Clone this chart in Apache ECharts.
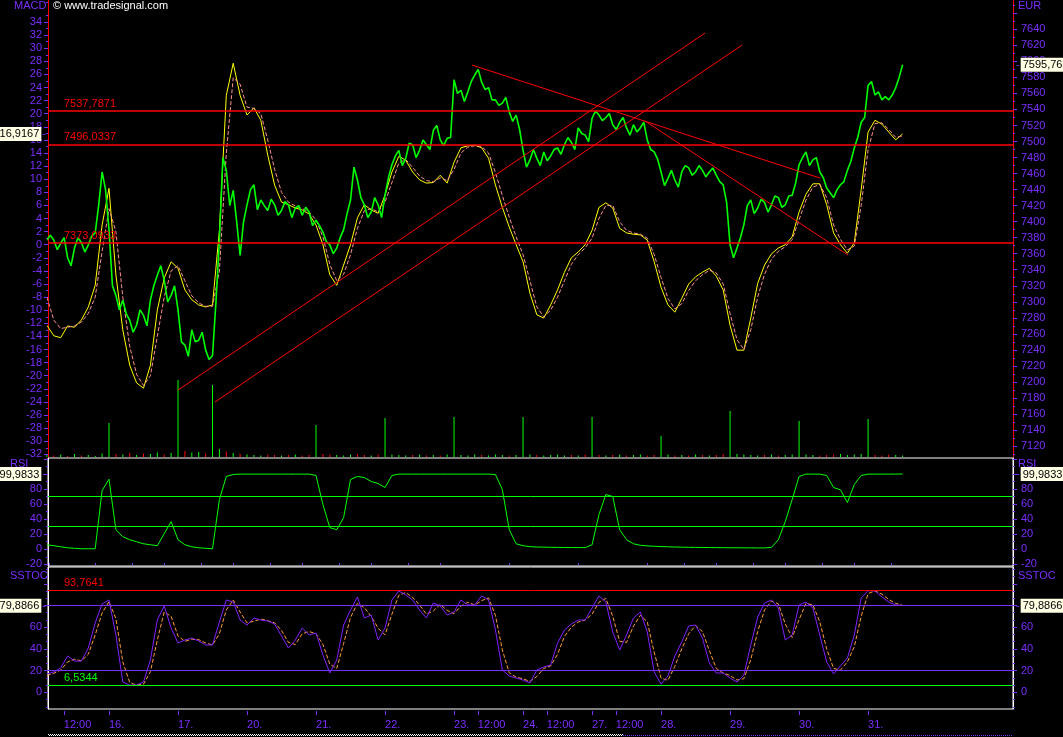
<!DOCTYPE html>
<html>
<head>
<meta charset="utf-8">
<title>MACD / RSI / SSTOC</title>
<script src="https://cdn.jsdelivr.net/npm/echarts@6/dist/echarts.min.js"></script>
<style>
html,body{margin:0;padding:0;background:#000;overflow:hidden;}
#chart{width:1063px;height:737px;}
</style>
</head>
<body>
<div id="chart"></div>
<script>
// ---------------- data ----------------
// indicators: one sample every 1/10 trading day; price: one every 1/20 trading day
const samplesPerDay = 10;
const priceSamplesPerDay = 20;
const firstSample = 1;

const price = [
7377,7383,7377,7365,7373,7380,7355,7345,7367,7380,7374,7362,7371,7382,7386,7420,7462,7440,
7390,7320,7308,7290,7302,7285,7277,7262,7271,7290,7283,7270,7302,7320,7333,7345,7327,7300,7308,7320,
7290,7250,7246,7232,7265,7250,7252,7262,7240,7228,7233,7300,7377,7480,7464,7420,7439,7400,7358,7400,
7421,7440,7446,7415,7427,7420,7414,7428,7421,7408,7414,7425,7421,7405,7417,7420,7408,7418,7412,7395,
7402,7395,7387,7375,7371,7360,7367,7380,7390,7410,7427,7468,7452,7430,7421,7405,7412,7430,7421,7405,
7433,7455,7471,7482,7489,7470,7479,7498,7496,7480,7489,7502,7496,7490,7514,7520,7502,7495,7504,7505,
7577,7560,7564,7550,7562,7575,7583,7590,7574,7565,7567,7552,7552,7545,7548,7555,7537,7525,7533,7515,
7489,7468,7477,7490,7479,7470,7487,7476,7482,7490,7492,7484,7496,7505,7499,7490,7517,7510,7508,7500,
7529,7538,7533,7526,7530,7535,7521,7515,7524,7530,7517,7508,7521,7512,7517,7524,7502,7490,7487,7478,
7462,7445,7454,7464,7452,7443,7462,7470,7467,7458,7462,7470,7464,7456,7462,7467,7458,7450,7446,7424,
7371,7355,7367,7380,7396,7420,7427,7410,7417,7428,7424,7412,7421,7432,7430,7418,7421,7432,7433,7448,
7471,7480,7487,7470,7477,7480,7462,7455,7442,7436,7430,7440,7446,7450,7464,7475,7492,7505,7524,7530,
7570,7575,7558,7562,7552,7556,7552,7558,7567,7580,7595.76
];

const macd = [
-12.3,-13.9,-14.2,-12.4,-12.6,-11.5,-9.5,-6.2,3.0,8.6,
-4.6,-13.0,-18.4,-21.1,-21.9,-18.4,-10.0,-5.1,-2.6,-3.6,
-6.9,-8.4,-9.2,-9.5,-9.2,2.2,22.8,27.7,22.8,19.8,
20.9,19.0,13.7,9.1,6.5,6.1,5.6,5.3,4.7,3.0,
0,-4.6,-6.2,-3.1,0,4.1,6.1,5.3,4.8,7.6,
11.1,13.5,12.9,11.1,9.9,9.4,9.5,10.6,9.4,12.6,
14.8,15.1,15.2,14.8,13.2,9.1,5.7,2.7,0,-2.6,
-7.4,-10.7,-11.2,-9.2,-6.9,-4.2,-2.0,-1.1,0,2.2,
5.7,6.4,5.6,2.5,1.8,1.6,1.5,0.7,-2.6,-6.5,
-9.2,-10.3,-8.2,-6.0,-4.9,-4.2,-3.6,-4.8,-6.9,-12.3,
-16.1,-16.1,-11.2,-5.9,-3.1,-1.4,-0.5,0,1.2,5.0,
7.7,9.3,9.3,6.1,1.8,0,-1.3,0.3,8.4,17.2,
19.0,18.4,17.2,16.0,16.9167
];

const macdSignal = [
-8.0,-11.5,-12.8,-12.6,-12.4,-11.8,-10.5,-8.0,-1.0,5.5,
2.0,-8.0,-15.5,-19.8,-21.5,-20.0,-14.0,-8.0,-4.0,-3.2,
-5.5,-7.8,-8.9,-9.4,-9.4,-4.0,14.0,25.5,24.5,21.0,
20.8,20.0,16.0,11.5,8.0,6.5,5.9,5.5,5.0,3.8,
1.2,-3.0,-5.5,-4.5,-1.5,2.5,5.2,5.5,5.0,6.5,
9.5,12.5,13.0,11.8,10.5,9.8,9.6,10.2,9.8,11.5,
14.0,14.9,15.1,15.0,14.0,11.0,7.5,4.2,1.2,-1.5,
-5.5,-9.5,-11.0,-10.0,-8.0,-5.5,-3.0,-1.5,-0.5,1.0,
4.0,6.0,6.0,3.5,2.2,1.8,1.6,1.0,-1.5,-5.0,
-8.2,-9.8,-9.0,-7.0,-5.5,-4.6,-3.9,-4.3,-6.0,-10.5,
-14.5,-16.0,-13.0,-8.0,-4.5,-2.2,-1.0,-0.3,0.8,3.8,
6.8,8.8,9.2,7.2,3.0,0.8,-0.8,-0.2,6.0,14.5,
18.5,18.6,17.6,16.4,16.6
];

const volume = [
20,15,25,10,30,15,20,10,35,340,
30,25,40,20,35,30,45,25,40,770,
60,45,50,35,720,80,55,40,30,25,
20,15,25,20,15,20,25,15,20,320,
30,25,20,15,25,30,20,15,25,390,
25,20,15,20,25,15,20,15,25,400,
20,15,25,20,15,25,20,15,20,400,
25,20,15,20,25,15,20,15,25,400,
20,15,20,25,15,20,25,15,20,210,
25,15,20,15,25,20,15,20,30,460,
30,25,20,15,20,25,15,20,25,360,
25,20,15,20,25,30,20,25,30,380,
20,15,25,20,15
];

const rsi = [
6,4.7,3.3,2,1.3,0.7,0.7,0.7,78,93,
26,16.7,12.7,10,7.3,6,4.7,20.7,36.7,12.7,
6,3.3,2,1.3,0.7,66,96.7,99.3,99.8,99.8,
99.8,99.8,99.8,99.8,99.8,99.8,99.8,99.8,99.8,98,
59.3,28.7,26,42,92.7,96.7,95.3,90,87.3,82,
98,99.8,99.8,99.8,99.8,99.8,99.8,99.8,99.8,99.8,
99.8,99.8,99.8,99.8,99.8,99.3,79.3,26,7.3,4.7,
3.5,3,2.8,2.6,2.5,2.4,2.3,2.3,2.2,6,
46,72.7,70,26,12.7,7.3,5.3,4.5,4,3.6,
3.3,3,2.8,2.6,2.5,2.4,2.3,2.2,2.1,2,
2,1.9,1.9,1.8,1.8,2.5,12.7,36.7,66,96.7,
99.8,99.8,99.8,98,82,79,62,86,98,99.8,
99.8,99.8,99.8,99.8,99.9833
];

const stoch = [
16.9,18.7,22.4,33.5,28.8,28.8,40.8,63.9,81.4,85.1,
52.8,9.5,6.6,6.7,9.5,29.8,66.6,79.6,59.3,45.4,
48.2,50,47.3,43.6,43.6,64.8,85.1,83.2,66.6,62,
68.5,66.6,65.7,62.9,51.9,40.8,48.2,59.3,52.8,54.6,
34.4,17.8,29.8,62,75.9,87.9,68.5,71.2,48.2,59.3,
85.1,93.4,89.7,85.1,75.9,68.5,82.3,79.6,71.2,74,
85.1,80.5,80.5,88.8,85.1,57.4,20.6,15,13.2,11.3,
8.6,20.6,23.3,25.2,45.4,57.4,62.9,66.6,66.6,77.7,
88.8,83.2,55.6,39,52.8,68.5,74,55.6,18.7,7.6,
15,33.5,46.4,61.1,62,50,27,17.8,17.8,13.2,
9.5,15.9,43.6,69.4,82.3,85.1,77.7,48.2,52.8,80.5,
83.2,77.7,52.8,28,16.9,24.3,31.6,52.8,87,93.7,
93.4,87.9,83.2,80.5,79.8866
];

const stochSignal = [
15.5,17.5,20.5,28,30.5,29,35,53,73,83.5,
68,28,9,6.6,7.5,19,48,74,70,52,
47,49,48.5,45.5,43.6,54,76,85,74,64,
65.5,67.5,66,64,57,46,44,54,56,54,
44,26,22,45,69,82,78,70,59,53,
72,89.5,92,87.5,80.5,72,75,81,75.5,72.5,
79.5,83,80.5,84.5,87,71,39,18,14,12.5,
10,14.5,22,24.3,35,51.5,60,64.8,66.6,72,
83,86.5,70,47,46,61,71,65,37,13,
11,24,40,54,61.5,56,38.5,22,17.8,15.5,
11.3,12.5,30,56,76,84,81.5,63,50.5,67,
82,80.5,65,40,22,20.5,28,42,70,91,
93.5,90.5,85.5,82,80.2
];

// horizontal price levels and drawn trend lines (trading-day, price)
const priceLevels = [7537.7871, 7496.0337, 7373.0933];
const trendLines = [
  [[2.0, 7189.8], [9.638, 7635.4]],
  [[2.536, 7174.9], [10.174, 7620.4]],
  [[6.261, 7595.4], [11.304, 7454.4]],
  [[8.768, 7525.6], [11.71, 7358.3]]
];
const rsiLevels = [70, 30];
const stochHigh = 93.7641, stochLow = 6.5344, stochLower = 20;
const lastMacd = 16.9167, lastPrice = 7595.76, lastRsi = 99.9833, lastStoch = 79.8866;

// x axis ticks and labels (trading-day units)
const xLabelTicks = [0.345, 1, 2, 3, 4, 5, 6, 6.345, 7, 7.345, 8, 8.345, 9, 10, 11, 12];
const xLabelText = ['12:00','16.','17.','20.','21.','22.','23.','12:00','24.','12:00','27.','12:00','28.','29.','30.','31.'];
const xMinorTicks = [0.13,0.8,1.34,1.8,2.34,2.8,3.34,3.8,4.34,4.8,5.34,5.8,6.8,7.8,8.8,9.34,9.8,10.34,10.8,11.34,11.8,12.34];

// y axis tick values
const macdLabels = []; for (let v = -32; v <= 34; v += 2) macdLabels.push(v);
const macdMinor = []; for (let v = -31; v <= 37; v += 2) macdMinor.push(v);
const eurLabels = []; for (let v = 7120; v <= 7640; v += 20) eurLabels.push(v);
const eurMajor = []; for (let v = 7120; v <= 7660; v += 20) eurMajor.push(v);
const eurMinor = []; for (let v = 7110; v <= 7670; v += 20) eurMinor.push(v);
const rsiLabels = [-20, 0, 20, 40, 60, 80];
const rsiMajor = [-20, 0, 20, 40, 60, 80, 100, 120];
const rsiMinor = [-10, 10, 30, 50, 70, 90, 110];
const stLabels = [0, 20, 40, 60];
const stMajor = [-20, 0, 20, 40, 60, 80, 100];
const stMinor = []; for (let v = -20; v <= 100; v += 20) { stMinor.push(v + 20/3, v + 40/3); }

// ---------------- chart ----------------
const PURPLE = '#7b2fff';
const FONT = 'Liberation Sans, Arial, sans-serif';
const X_MIN = 0.116, X_MAX = 14.10;
const xs = macd.map((_, k) => (k + firstSample) / samplesPerDay);
const pxs = price.map((_, k) => (k + 2 * firstSample) / priceSamplesPerDay);
const pair = arr => arr.map((v, k) => [xs[k], v]);
const comma = (v, d) => v.toFixed(d).replace('.', ',');
const NOLINE = {color: 'rgba(0,0,0,0)', width: 0};

const boxRich = {
  v: {backgroundColor: '#ffffe4', color: '#000', fontSize: 11, fontFamily: FONT, padding: [2, 2, 1, 2], lineHeight: 13},
  d: {color: PURPLE, fontSize: 11, fontFamily: FONT, padding: [0, 1, 0, 1]}
};
function leftBox(value, text, lineStyle) {
  return {yAxis: value, lineStyle: lineStyle || NOLINE, label: {show: true, position: 'start', distance: 1, formatter: '{v|' + text + '}{d|-}', rich: boxRich}};
}
function rightBox(value, text) {
  return {yAxis: value, lineStyle: NOLINE, label: {show: true, position: 'end', distance: 2, formatter: '{d|-}{v|' + text + '}', rich: boxRich}};
}

function yPair(gridIndex, position, min, max, labelVals, majorVals, minorVals, lineColor) {
  return [
    {type: 'value', gridIndex, position, min, max,
     axisLine: {show: true, onZero: false, lineStyle: {color: lineColor, width: 1}},
     axisTick: {show: true, inside: false, length: 4, customValues: majorVals, lineStyle: {color: PURPLE}},
     axisLabel: {show: true, customValues: labelVals, color: PURPLE, fontSize: 11, fontFamily: FONT,
                 margin: position === 'left' ? 6 : 8, formatter: v => String(v)},
     splitLine: {show: false}},
    {type: 'value', gridIndex, position, min, max,
     axisLine: {show: false, onZero: false},
     axisTick: {show: true, inside: false, length: 2, customValues: minorVals, lineStyle: {color: PURPLE}},
     axisLabel: {show: false}, splitLine: {show: false}}
  ];
}

const yAxes = [].concat(
  yPair(0, 'left', -32.41, 37.36, macdLabels, macdLabels, macdMinor, '#ff0000'),     // 0,1
  yPair(0, 'right', 7106.3, 7676.6, eurLabels, eurMajor, eurMinor, '#ff0000'),        // 2,3
  [{type: 'value', gridIndex: 0, min: 0, max: 4570, show: false}],                    // 4
  yPair(1, 'left', -22.2, 121.2, rsiLabels, rsiMajor, rsiMinor, '#ffffff'),           // 5,6
  yPair(1, 'right', -22.2, 121.2, rsiLabels, rsiMajor, rsiMinor, '#ffffff'),          // 7,8
  yPair(2, 'left', -15.4, 115.5, stLabels, stMajor, stMinor, '#ffffff'),              // 9,10
  yPair(2, 'right', -15.4, 115.5, stLabels, stMajor, stMinor, '#ffffff')              // 11,12
);

const xLabelFmt = v => {
  const k = xLabelTicks.findIndex(t => Math.abs(t - v) < 1e-6);
  return k >= 0 ? xLabelText[k] : '';
};

const xAxes = [
  {type: 'value', gridIndex: 0, min: X_MIN, max: X_MAX, show: false, axisLine: {onZero: false}},
  {type: 'value', gridIndex: 1, min: X_MIN, max: X_MAX, show: false, axisLine: {onZero: false}},
  {type: 'value', gridIndex: 2, min: X_MIN, max: X_MAX, offset: 2,
   axisLine: {show: false, onZero: false},
   axisTick: {show: true, length: 4, customValues: xLabelTicks, lineStyle: {color: PURPLE}},
   axisLabel: {show: true, customValues: xLabelTicks, formatter: xLabelFmt, align: 'left',
               color: PURPLE, fontSize: 11, fontFamily: FONT, margin: 8},
   splitLine: {show: false}},
  {type: 'value', gridIndex: 2, min: X_MIN, max: X_MAX, offset: 2,
   axisLine: {show: false, onZero: false},
   axisTick: {show: true, length: 2, customValues: xMinorTicks, lineStyle: {color: PURPLE}},
   axisLabel: {show: false}, splitLine: {show: false}}
];

const volColor = params => {
  const k = params.dataIndex;
  if (volume[k] > 150) return '#00ff00';
  const j = 2 * k;
  return (j > 0 && price[j] < price[j - 1]) ? '#ff0000' : '#00ff00';
};

const option = {
  backgroundColor: '#000',
  animation: false,
  grid: [
    {left: 48, right: 50, top: 0, height: 457, show: false, outerBoundsMode: 'none'},
    {left: 48, right: 50, top: 458, height: 108, show: true, borderColor: '#ffffff', borderWidth: 1, backgroundColor: 'transparent', outerBoundsMode: 'none'},
    {left: 48, right: 50, top: 567, height: 142, show: true, borderColor: '#ffffff', borderWidth: 1, backgroundColor: 'transparent', outerBoundsMode: 'none'}
  ],
  xAxis: xAxes,
  yAxis: yAxes,
  graphic: [
    {type: 'text', left: 14, top: 0, style: {text: 'MACD', fill: PURPLE, font: '11px ' + FONT}},
    {type: 'text', left: 53, top: 0, style: {text: '\u00a9 www.tradesignal.com', fill: '#ffffff', font: '11px ' + FONT}},
    {type: 'text', left: 1018, top: 0, style: {text: 'EUR', fill: PURPLE, font: '11px ' + FONT}},
    {type: 'text', left: 10, top: 458, z: -1, style: {text: 'RSI', fill: PURPLE, font: '11px ' + FONT}},
    {type: 'text', left: 1018, top: 458, z: -1, style: {text: 'RSI', fill: PURPLE, font: '11px ' + FONT}},
    {type: 'text', left: 10, top: 570, style: {text: 'SSTOC', fill: PURPLE, font: '11px ' + FONT}},
    {type: 'text', left: 1018, top: 570, style: {text: 'SSTOC', fill: PURPLE, font: '11px ' + FONT}},
    {type: 'line', shape: {x1: 48, y1: 734.5, x2: 623, y2: 734.5}, style: {stroke: '#ffffff', lineWidth: 1, lineDash: [1, 1]}},
    {type: 'line', shape: {x1: 48, y1: 735.5, x2: 623, y2: 735.5}, style: {stroke: '#ffffff', lineWidth: 1, lineDash: [1, 1], lineDashOffset: 1}},
    {type: 'line', shape: {x1: 623, y1: 735.5, x2: 1013, y2: 735.5}, style: {stroke: PURPLE, lineWidth: 1, lineDash: [1, 1]}}
  ],
  series: [
    {name: 'Volume', type: 'bar', xAxisIndex: 0, yAxisIndex: 4, data: pair(volume), barWidth: 1,
     itemStyle: {color: volColor}, silent: true},
    {name: 'MACD', type: 'line', xAxisIndex: 0, yAxisIndex: 0, data: pair(macd), symbol: 'none',
     lineStyle: {color: '#ffff00', width: 1},
     markLine: {silent: true, symbol: ['none', 'none'], data: [leftBox(lastMacd, comma(lastMacd, 4))]}},
    {name: 'Signal', type: 'line', xAxisIndex: 0, yAxisIndex: 0, data: pair(macdSignal), symbol: 'none',
     lineStyle: {color: '#ff9090', width: 1, type: [4, 2]}},
    {name: 'Price', type: 'line', xAxisIndex: 0, yAxisIndex: 2, data: price.map((v, k) => [pxs[k], v]), symbol: 'none',
     lineStyle: {color: '#00ff00', width: 1.6},
     markLine: {
       silent: true, symbol: ['none', 'none'],
       lineStyle: {color: '#ff0000', width: 1, type: 'solid'},
       label: {show: false},
       data: [].concat(
         priceLevels.map(v => ({yAxis: v, lineStyle: {color: '#ff0000', width: 1.5},
                                label: {show: true, position: 'insideStartTop', distance: [16, 2],
                                formatter: comma(v, 4), color: '#ff0000', fontSize: 11, fontFamily: FONT}})),
         trendLines.map(t => [{coord: t[0]}, {coord: t[1]}]),
         [rightBox(lastPrice, comma(lastPrice, 2))]
       )
     }},
    {name: 'RSI', type: 'line', xAxisIndex: 1, yAxisIndex: 5, data: pair(rsi), symbol: 'none',
     lineStyle: {color: '#00ff00', width: 1},
     markLine: {
       silent: true, symbol: ['none', 'none'],
       lineStyle: {color: '#00ff00', width: 1, type: 'solid'},
       label: {show: false},
       data: rsiLevels.map(v => ({yAxis: v})).concat([
         leftBox(lastRsi, comma(lastRsi, 4)), rightBox(lastRsi, comma(lastRsi, 4))])
     }},
    {name: 'SSTOC signal', type: 'line', xAxisIndex: 2, yAxisIndex: 9, data: pair(stochSignal), symbol: 'none',
     lineStyle: {color: '#ff9a3c', width: 1, type: [4, 2]}},
    {name: 'SSTOC', type: 'line', xAxisIndex: 2, yAxisIndex: 9, data: pair(stoch), symbol: 'none',
     lineStyle: {color: '#8020ff', width: 1},
     markLine: {
       silent: true, symbol: ['none', 'none'],
       lineStyle: {width: 1, type: 'solid'},
       label: {show: false},
       data: [
         {yAxis: stochHigh, lineStyle: {color: '#ff0000'}, label: {show: true, position: 'insideStartTop', distance: [16, 2],
           formatter: comma(stochHigh, 4), color: '#ff0000', fontSize: 11, fontFamily: FONT}},
         leftBox(lastStoch, comma(lastStoch, 4), {color: '#7b2fff', width: 1}),
         rightBox(lastStoch, comma(lastStoch, 4)),
         {yAxis: stochLower, lineStyle: {color: '#7b2fff'}},
         {yAxis: stochLow, lineStyle: {color: '#00ff00'}, label: {show: true, position: 'insideStartTop', distance: [16, 2],
           formatter: comma(stochLow, 4), color: '#00ff00', fontSize: 11, fontFamily: FONT}}
       ]
     }}
  ]
};

const chart = echarts.init(document.getElementById('chart'), null, {renderer: 'canvas', width: 1063, height: 737});
chart.setOption(option);
</script>
</body>
</html>
